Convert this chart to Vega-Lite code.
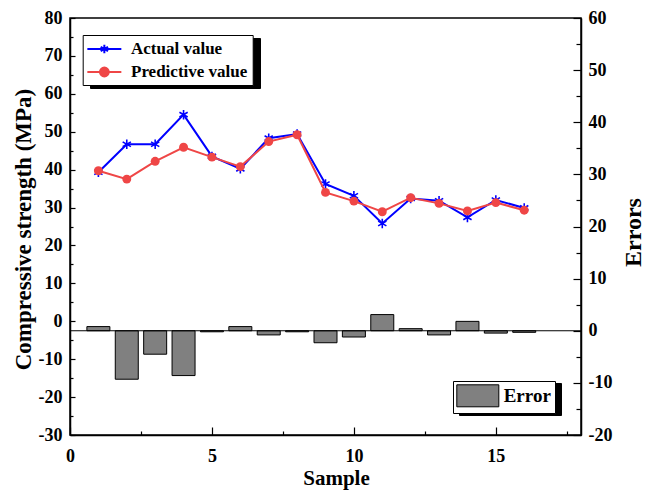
{
  "$schema": "https://vega.github.io/schema/vega-lite/v6.json",
  "width": 511,
  "height": 417,
  "autosize": "none",
  "padding": {"left": 70, "top": 18, "right": 65, "bottom": 58},
  "background": "white",
  "config": {
    "view": {"stroke": "black", "strokeWidth": 1.5},
    "font": "Liberation Serif",
    "axis": {
      "grid": false,
      "domainColor": "black",
      "domainWidth": 1.5,
      "tickColor": "black",
      "tickWidth": 1.2,
      "labelFont": "Liberation Serif",
      "labelFontWeight": "bold",
      "labelFontSize": 18,
      "labelColor": "black",
      "titleFont": "Liberation Serif",
      "titleFontWeight": "bold",
      "titleColor": "black",
      "labelOverlap": false,
      "labelFlush": false
    }
  },
  "datasets": {
    "main": [
      {"Sample": 1, "Actual value": 39.3, "Predictive value": 39.7, "Error": 0.8},
      {"Sample": 2, "Actual value": 46.7, "Predictive value": 37.5, "Error": -9.3},
      {"Sample": 3, "Actual value": 46.7, "Predictive value": 42.2, "Error": -4.5},
      {"Sample": 4, "Actual value": 54.5, "Predictive value": 45.9, "Error": -8.6},
      {"Sample": 5, "Actual value": 43.5, "Predictive value": 43.3, "Error": -0.2},
      {"Sample": 6, "Actual value": 40.2, "Predictive value": 40.8, "Error": 0.8},
      {"Sample": 7, "Actual value": 48.3, "Predictive value": 47.4, "Error": -0.8},
      {"Sample": 8, "Actual value": 49.4, "Predictive value": 49.2, "Error": -0.2},
      {"Sample": 9, "Actual value": 36.2, "Predictive value": 34.0, "Error": -2.3},
      {"Sample": 10, "Actual value": 33.1, "Predictive value": 31.7, "Error": -1.2},
      {"Sample": 11, "Actual value": 25.8, "Predictive value": 28.9, "Error": 3.1},
      {"Sample": 12, "Actual value": 32.4, "Predictive value": 32.6, "Error": 0.4},
      {"Sample": 13, "Actual value": 31.8, "Predictive value": 31.1, "Error": -0.8},
      {"Sample": 14, "Actual value": 27.4, "Predictive value": 29.1, "Error": 1.8},
      {"Sample": 15, "Actual value": 32.0, "Predictive value": 31.3, "Error": -0.45},
      {"Sample": 16, "Actual value": 29.9, "Predictive value": 29.3, "Error": -0.3}
    ]
  },
  "data": {"name": "main"},
  "layer": [
    {
      "mark": {"type": "bar", "size": 23, "stroke": "black", "strokeWidth": 1, "opacity": 1, "orient": "vertical"},
      "encoding": {
        "x": {
          "field": "Sample", "type": "quantitative",
          "scale": {"domain": [0, 18], "nice": false, "padding": 0},
          "axis": {
            "title": "Sample",
            "values": [0, 2.5, 5, 7.5, 10, 12.5, 15, 17.5],
            "labelExpr": "datum.value % 5 === 0 ? '' + datum.value : ''",
            "tickSize": {"condition": {"test": "datum.value % 5 === 0", "value": -8}, "value": -4},
            "labelPadding": 20,
            "titleFontSize": 21,
            "titleX": 266,
            "titleY": 43,
            "titleBaseline": "middle"
          }
        },
        "y": {
          "field": "Error", "type": "quantitative",
          "scale": {"domain": [-20, 60], "nice": false, "zero": false},
          "axis": {
            "orient": "right",
            "title": "Errors",
            "values": [-20, -15, -10, -5, 0, 5, 10, 15, 20, 25, 30, 35, 40, 45, 50, 55, 60],
            "labelExpr": "datum.value % 10 === 0 ? '' + datum.value : ''",
            "tickSize": {"condition": {"test": "datum.value % 10 === 0", "value": -8}, "value": -5},
            "labelPadding": 15,
            "titleFontSize": 24,
            "titleAngle": 270,
            "titleX": 52,
            "titleY": 214,
            "titleAlign": "center",
            "titleBaseline": "middle"
          }
        },
        "y2": {"datum": 0},
        "fill": {
          "datum": "Error", "type": "nominal",
          "scale": {"domain": ["Error"], "range": ["#808080"]},
          "legend": {
            "title": null,
            "orient": "none",
            "legendX": 383,
            "legendY": 363,
            "symbolType": "M-1,-1H2.82V1H-1Z",
            "symbolSize": 484,
            "symbolStrokeColor": "black",
            "symbolStrokeWidth": 1,
            "labelFont": "Liberation Serif",
            "labelFontWeight": "bold",
            "labelFontSize": 19,
            "labelColor": "black",
            "labelOffset": 24.4,
            "padding": 3.3,
            "fillColor": "white",
            "strokeColor": "black",
            "zindex": 2
          }
        },
        "opacity": {
          "datum": "Error", "type": "ordinal",
          "scale": {"domain": ["Error"], "range": [1, 1]},
          "legend": {
            "title": null,
            "orient": "bottom-right",
            "offset": 20,
            "symbolType": "M-1,-1H2.82V1H-1Z",
            "symbolSize": 484,
            "symbolFillColor": "black",
            "symbolStrokeColor": "black",
            "symbolStrokeWidth": 1,
            "labelFont": "Liberation Serif",
            "labelFontWeight": "bold",
            "labelFontSize": 19,
            "labelColor": "black",
            "labelOffset": 24.4,
            "padding": 3.3,
            "fillColor": "black",
            "strokeColor": "black",
            "zindex": 1
          }
        }
      }
    },
    {
      "data": {"values": [{}]},
      "mark": {"type": "rule", "color": "black", "strokeWidth": 1},
      "encoding": {
        "y": {"datum": 0, "type": "quantitative", "scale": {"domain": [-20, 60], "nice": false, "zero": false}, "axis": null}
      }
    },
    {
      "mark": {"type": "line", "color": "#0000ff", "strokeWidth": 2},
      "encoding": {
        "x": {"field": "Sample", "type": "quantitative", "scale": {"domain": [0, 18], "nice": false, "padding": 0}},
        "y": {
          "field": "Actual value", "type": "quantitative",
          "scale": {"domain": [-30, 80], "nice": false, "zero": false},
          "axis": {
            "orient": "left",
            "title": "Compressive strength (MPa)",
            "values": [-30, -25, -20, -15, -10, -5, 0, 5, 10, 15, 20, 25, 30, 35, 40, 45, 50, 55, 60, 65, 70, 75, 80],
            "labelExpr": "datum.value % 10 === 0 ? '' + datum.value : ''",
            "tickSize": {"condition": {"test": "datum.value % 10 === 0", "value": -5}, "value": -3},
            "labelPadding": 13,
            "titleFontSize": 23,
            "titleAngle": 270,
            "titleX": -47,
            "titleY": 211,
            "titleAlign": "center",
            "titleBaseline": "middle"
          }
        }
      }
    },
    {
      "mark": {"type": "point", "shape": "M0,-1L0,1M-0.87,-0.5L0.87,0.5M-0.87,0.5L0.87,-0.5", "filled": false, "stroke": "#0000ff", "strokeWidth": 1.6, "size": 90, "opacity": 1},
      "encoding": {
        "x": {"field": "Sample", "type": "quantitative", "scale": {"domain": [0, 18], "nice": false, "padding": 0}},
        "y": {"field": "Actual value", "type": "quantitative", "scale": {"domain": [-30, 80], "nice": false, "zero": false}, "axis": null}
      }
    },
    {
      "mark": {"type": "line", "color": "#ef4646", "strokeWidth": 2},
      "encoding": {
        "x": {"field": "Sample", "type": "quantitative", "scale": {"domain": [0, 18], "nice": false, "padding": 0}},
        "y": {"field": "Predictive value", "type": "quantitative", "scale": {"domain": [-30, 80], "nice": false, "zero": false}, "axis": null}
      }
    },
    {
      "mark": {"type": "point", "shape": "circle", "filled": true, "color": "#ef4646", "size": 80, "opacity": 1},
      "encoding": {
        "x": {"field": "Sample", "type": "quantitative", "scale": {"domain": [0, 18], "nice": false, "padding": 0}},
        "y": {"field": "Predictive value", "type": "quantitative", "scale": {"domain": [-30, 80], "nice": false, "zero": false}, "axis": null}
      }
    },
    {
      "transform": [{"fold": ["Actual value", "Predictive value"], "as": ["series", "value"]}],
      "mark": {"type": "point", "filled": true, "opacity": 1, "clip": true, "size": 10},
      "encoding": {
        "x": {"field": "Sample", "type": "quantitative", "scale": {"domain": [0, 18], "nice": false, "padding": 0}},
        "y": {"field": "value", "type": "quantitative", "scale": {"domain": [1000, 2000], "nice": false, "zero": false}, "axis": null},
        "fill": {
          "field": "series", "type": "nominal",
          "scale": {"domain": ["Actual value", "Predictive value"], "range": ["#0000ff", "#ef4646"]},
          "legend": {
            "title": null,
            "orient": "none",
            "legendX": 12.7,
            "legendY": 17,
            "symbolSize": 289,
            "symbolStrokeWidth": 2,
            "labelFont": "Liberation Serif",
            "labelFontWeight": "bold",
            "labelFontSize": 17,
            "labelColor": "black",
            "labelOffset": 24.8,
            "padding": 4.5,
            "rowPadding": 5,
            "fillColor": "white",
            "strokeColor": "black",
            "zindex": 2
          }
        },
        "stroke": {
          "field": "series", "type": "nominal",
          "scale": {"domain": ["Actual value", "Predictive value"], "range": ["#0000ff", "#ef4646"]},
          "legend": {
            "title": null,
            "orient": "none",
            "legendX": 12.7,
            "legendY": 17,
            "symbolSize": 289,
            "symbolStrokeWidth": 2,
            "labelFont": "Liberation Serif",
            "labelFontWeight": "bold",
            "labelFontSize": 17,
            "labelColor": "black",
            "labelOffset": 24.8,
            "padding": 4.5,
            "rowPadding": 5,
            "fillColor": "white",
            "strokeColor": "black",
            "zindex": 2
          }
        },
        "shape": {
          "field": "series", "type": "nominal",
          "scale": {
            "domain": ["Actual value", "Predictive value"],
            "range": [
              "M-1.1,0L2.9,0M0.9,-0.5L0.9,0.5M0.467,-0.25L1.333,0.25M0.467,0.25L1.333,-0.25",
              "M-1.1,0L2.9,0M0.38,0A0.52,0.52 0 1,0 1.42,0A0.52,0.52 0 1,0 0.38,0Z"
            ]
          },
          "legend": {
            "title": null,
            "orient": "none",
            "legendX": 12.7,
            "legendY": 17,
            "symbolSize": 289,
            "symbolStrokeWidth": 2,
            "labelFont": "Liberation Serif",
            "labelFontWeight": "bold",
            "labelFontSize": 17,
            "labelColor": "black",
            "labelOffset": 24.8,
            "padding": 4.5,
            "rowPadding": 5,
            "fillColor": "white",
            "strokeColor": "black",
            "zindex": 2
          }
        },
        "opacity": {
          "field": "series", "type": "ordinal",
          "scale": {"domain": ["Actual value", "Predictive value"], "range": [1, 1]},
          "legend": {
            "title": null,
            "orient": "top-left",
            "offset": 20,
            "symbolType": "M-1.1,0L2.9,0",
            "symbolSize": 289,
            "symbolFillColor": "black",
            "symbolStrokeColor": "black",
            "symbolStrokeWidth": 2,
            "labelFont": "Liberation Serif",
            "labelFontWeight": "bold",
            "labelFontSize": 17,
            "labelColor": "black",
            "labelOffset": 24.8,
            "padding": 4.5,
            "rowPadding": 5,
            "fillColor": "black",
            "strokeColor": "black",
            "zindex": 1
          }
        }
      }
    }
  ],
  "resolve": {
    "scale": {"y": "independent", "fill": "independent", "stroke": "independent", "shape": "independent", "opacity": "independent"},
    "legend": {"fill": "independent", "stroke": "independent", "shape": "independent", "opacity": "independent"}
  }
}
